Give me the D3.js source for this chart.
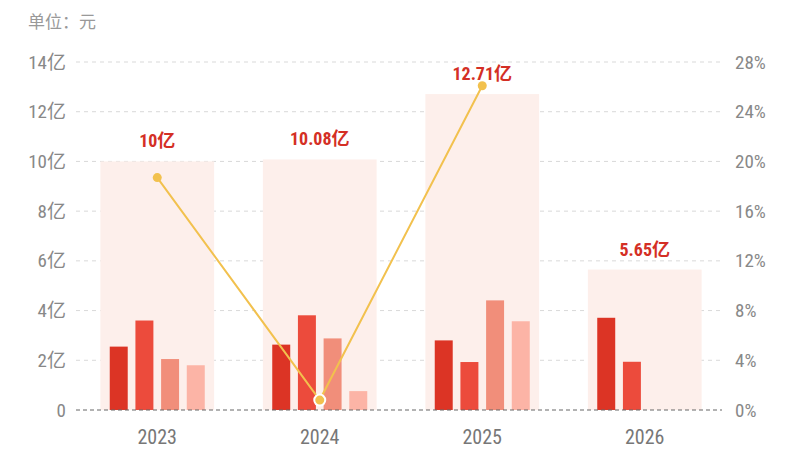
<!DOCTYPE html>
<html><head><meta charset="utf-8">
<script src="https://cdn.jsdelivr.net/npm/d3@7/dist/d3.min.js"></script>
<style>
html,body{margin:0;padding:0;background:#fff;}
svg{display:block;}
</style></head>
<body><svg id="c" width="800" height="450"></svg>
<script>
const years = ["2023","2024","2025","2026"];
const totals = [10, 10.08, 12.71, 5.65];
const totalLabels = ["10亿","10.08亿","12.71亿","5.65亿"];
const seriesA = [2.55, 2.63, 2.80, 3.71];
const seriesB = [3.60, 3.81, 1.93, 1.94];
const seriesC = [2.05, 2.88, 4.41, null];
const seriesD = [1.80, 0.76, 3.57, null];
const growth = [18.7, 0.8, 26.09, null];
const leftTicks = [0,2,4,6,8,10,12,14];
const rightTicks = [0,4,8,12,16,20,24,28];
const unitLabel = "单位：元";

const series = [seriesA, seriesB, seriesC, seriesD];
const colors = ["#dc3425","#ec4b3c","#f18e7a","#fcb4a6"];

const svg = d3.select("#c");
const L = 76, R = 726, T = 62, B = 410;
const numFont = "'Roboto Condensed','Liberation Sans Narrow','DejaVu Sans Condensed','Noto Sans CJK SC',sans-serif";

const x = d3.scaleBand().domain(years).range([L, R]).paddingInner(0.3).paddingOuter(0.15);
const y = d3.scaleLinear().domain([0,14]).range([B, T]);
const y2 = d3.scaleLinear().domain([0,28]).range([B, T]);
const xs = d3.scaleBand().domain([0,1,2,3]).range([0, x.bandwidth()]).paddingInner(0.3).paddingOuter(0.365);

// unit
svg.append("text").attr("x",28).attr("y",28).attr("fill","#999")
  .attr("font-family","'Noto Sans CJK SC',sans-serif").attr("font-size",17).text(unitLabel);

// gridlines
svg.append("g").selectAll("line").data(leftTicks.filter(d=>d>0)).join("line")
  .attr("x1",L).attr("x2",722).attr("y1",d=>y(d)).attr("y2",d=>y(d))
  .attr("stroke","#d9d9d9").attr("stroke-dasharray","4,4");

// background total bars
svg.append("g").selectAll("rect").data(years).join("rect")
  .attr("x",d=>x(d)).attr("width",x.bandwidth())
  .attr("y",(d,i)=>y(totals[i])).attr("height",(d,i)=>B-y(totals[i]))
  .attr("fill","#fdefeb");

// sub bars
series.forEach((s,si)=>{
  svg.append("g").selectAll("rect").data(years.map((d,i)=>({year:d,v:s[i]})).filter(d=>d.v!=null)).join("rect")
    .attr("x",d=>x(d.year)+xs(si)).attr("width",xs.bandwidth())
    .attr("y",d=>y(d.v)).attr("height",d=>B-y(d.v)).attr("fill",colors[si]);
});

// zero line
svg.append("line").attr("x1",L).attr("x2",722).attr("y1",B).attr("y2",B)
  .attr("stroke","#666").attr("stroke-dasharray","4,3");

// left axis labels
const yAxis = d3.axisLeft(y).tickValues(leftTicks).tickSize(0).tickPadding(0)
  .tickFormat(d=>d===0?"0":d+"亿");
const ga = svg.append("g").attr("transform",`translate(66,0)`).call(yAxis);
ga.select(".domain").remove();
ga.selectAll("text").attr("fill","#888").attr("font-size",19).attr("font-family",numFont);

// right axis labels
const yAxis2 = d3.axisRight(y2).tickValues(rightTicks).tickSize(0).tickPadding(0)
  .tickFormat(d=>d+"%");
const gb = svg.append("g").attr("transform",`translate(735,0)`).call(yAxis2);
gb.select(".domain").remove();
gb.selectAll("text").attr("fill","#888").attr("font-size",19).attr("font-family",numFont);

// x axis labels
const xAxis = d3.axisBottom(x).tickSize(0).tickPadding(0);
const gx = svg.append("g").attr("transform",`translate(0,444)`).call(xAxis);
gx.select(".domain").remove();
gx.selectAll("text").attr("fill","#777").attr("font-size",20).attr("font-family",numFont).attr("dy","0");

// growth line
const pts = years.map((d,i)=>({year:d,v:growth[i]})).filter(d=>d.v!=null);
const line = d3.line().x(d=>x(d.year)+x.bandwidth()/2).y(d=>y2(d.v));
svg.append("path").datum(pts).attr("d",line).attr("fill","none")
  .attr("stroke","#f2c14e").attr("stroke-width",2);
svg.append("g").selectAll("circle").data(pts).join("circle")
  .attr("cx",d=>x(d.year)+x.bandwidth()/2).attr("cy",d=>y2(d.v))
  .attr("r",d=>d.v<3?5.5:4.5).attr("fill","#f2c14e")
  .attr("stroke",d=>d.v<3?"#fff":"none").attr("stroke-width",2);

// total labels
svg.append("g").selectAll("text").data(years).join("text")
  .attr("x",d=>x(d)+x.bandwidth()/2).attr("y",(d,i)=>y(totals[i])-14)
  .attr("text-anchor","middle").attr("fill","#d42f25").attr("font-weight","bold")
  .attr("font-size",18).attr("font-family",numFont)
  .text((d,i)=>totalLabels[i]);
</script></body></html>
